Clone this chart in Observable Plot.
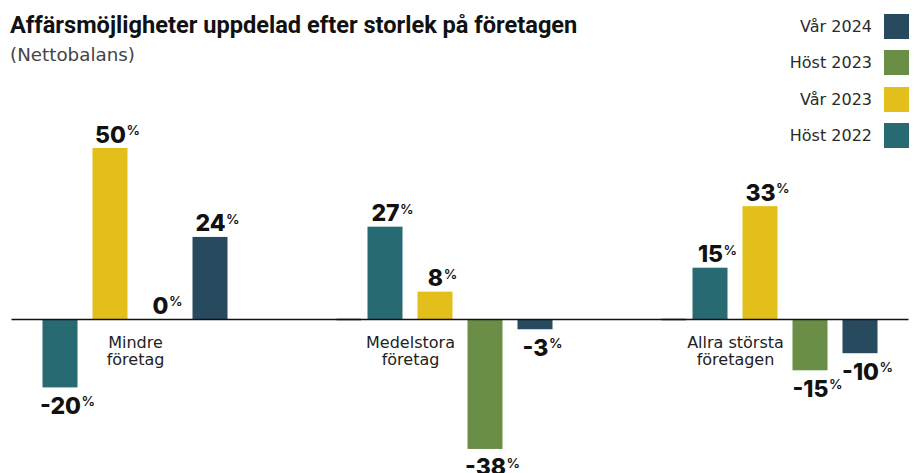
<!DOCTYPE html>
<html>
<head>
<meta charset="utf-8">
<script src="https://cdn.jsdelivr.net/npm/d3@7"></script>
<script src="https://cdn.jsdelivr.net/npm/@observablehq/plot@0.6"></script>
<style>
  body { margin: 0; background: #fff; }
  #wrap { position: relative; width: 914px; height: 473px; overflow: hidden; font-family: "DejaVu Sans", sans-serif; }
  #head { position: relative; height: 70px; }
  #title { position: absolute; left: 10px; top: 12px; font-family: Roboto, sans-serif; font-weight: 700; font-size: 23.6px; line-height: 27px; color: #111; white-space: nowrap; }
  #subtitle { position: absolute; left: 10px; top: 44px; font-size: 18.3px; line-height: 21px; color: #444; white-space: nowrap; }
  #legend { position: absolute; right: 5px; top: 14px; z-index: 2; }
  .row { display: flex; align-items: center; justify-content: flex-end; height: 25px; margin-bottom: 11.3px; }
  .row span { font-size: 16px; color: #2a2a2a; }
  .sw { width: 25px; height: 25px; margin-left: 12px; }
  #chart svg { display: block; overflow: visible; }
</style>
</head>
<body>
<div id="wrap">
  <div id="head">
    <div id="title"></div>
    <div id="subtitle"></div>
  </div>
  <div id="legend"></div>
  <div id="chart"></div>
</div>
<script>
const titleText = "Affärsmöjligheter uppdelad efter storlek på företagen";
const subtitleText = "(Nettobalans)";

const groups = ["Mindre företag", "Medelstora företag", "Allra största företagen"];
const groupLabels = ["Mindre\nföretag", "Medelstora\nföretag", "Allra största\nföretagen"];
const series = ["Höst 2022", "Vår 2023", "Höst 2023", "Vår 2024"];
const colors = ["#276a72", "#e2bf1a", "#6b8e46", "#274a5e"];

const host2022 = [-20, 27, 15];
const var2023 = [50, 8, 33];
const host2023 = [0, -38, -15];
const var2024 = [24, -3, -10];

// which bar each group label sits just right of (label placement, not data)
const labelAfterSeries = ["Vår 2023", "Höst 2022", "Höst 2022"];

const valuesBySeries = [host2022, var2023, host2023, var2024];
const data = groups.flatMap((g, i) => series.map((s, j) => ({group: g, series: s, value: valuesBySeries[j][i]})));
const labelData = groups.map((g, i) => ({group: g, label: groupLabels[i], after: labelAfterSeries[i]}));

document.getElementById("title").textContent = titleText;
document.getElementById("subtitle").textContent = subtitleText;

const legend = document.getElementById("legend");
series.slice().reverse().forEach(s => {
  const row = document.createElement("div");
  row.className = "row";
  const t = document.createElement("span");
  t.textContent = s;
  const sw = document.createElement("div");
  sw.className = "sw";
  sw.style.background = colors[series.indexOf(s)];
  row.appendChild(t);
  row.appendChild(sw);
  legend.appendChild(row);
});

const numFont = {fontFamily: "Inter, 'DejaVu Sans', sans-serif", fontSize: 23, fontWeight: 800, fill: "#111"};

const plot = Plot.plot({
  width: 914,
  height: 403,
  marginLeft: 34.5,
  marginRight: 28.5,
  marginTop: 0,
  marginBottom: 0,
  style: {fontFamily: "DejaVu Sans", background: "transparent", overflow: "visible"},
  fx: {domain: groups, paddingInner: 0.38556, paddingOuter: 0, axis: null, label: null},
  x: {domain: series, paddingInner: 0.3, paddingOuter: 0.15, axis: null, label: null},
  y: {domain: [-45.03, 72.81], axis: null, label: null},
  color: {domain: series, range: colors},
  marks: [
    Plot.barY(data, {fx: "group", x: "series", y: "value", fill: "series"}),
    Plot.ruleY(groups.slice(0, 2), {fx: d => d, y: () => 0, insetLeft: -23.5, insetRight: -126, stroke: "#111", strokeWidth: 1.5}),
    Plot.ruleY(groups.slice(2), {fx: d => d, y: () => 0, insetLeft: -23.5, insetRight: -23.5, stroke: "#111", strokeWidth: 1.5}),
    Plot.text(data.filter(d => d.value >= 0), {
      fx: "group", x: "series", y: "value", text: d => String(d.value),
      lineAnchor: "bottom", textAnchor: "start", dy: -6, className: "vlabel", ...numFont
    }),
    Plot.text(data.filter(d => d.value < 0), {
      fx: "group", x: "series", y: "value", text: d => String(d.value),
      lineAnchor: "top", textAnchor: "start", dy: 9.5, className: "vlabel", ...numFont
    }),
    Plot.text(labelData, {
      fx: "group", x: "after", y: () => 0, text: "label", dx: 25, dy: 15.6,
      lineAnchor: "top", lineHeight: 1.1, textAnchor: "middle",
      fontFamily: "DejaVu Sans", fontSize: 16, fill: "#222"
    })
  ]
});

document.getElementById("chart").appendChild(plot);

// center the number on its bar and append a superscript percent sign
plot.querySelectorAll("g.vlabel text").forEach(t => {
  const w = t.getComputedTextLength();
  t.setAttribute("dx", String(-w / 2));
  const sup = document.createElementNS("http://www.w3.org/2000/svg", "tspan");
  sup.textContent = "%";
  sup.setAttribute("font-size", "13.5");
  sup.setAttribute("font-weight", "600");
  sup.setAttribute("dy", "-7.5");
  sup.setAttribute("dx", "0.5");
  t.appendChild(sup);
});
</script>
</body>
</html>
